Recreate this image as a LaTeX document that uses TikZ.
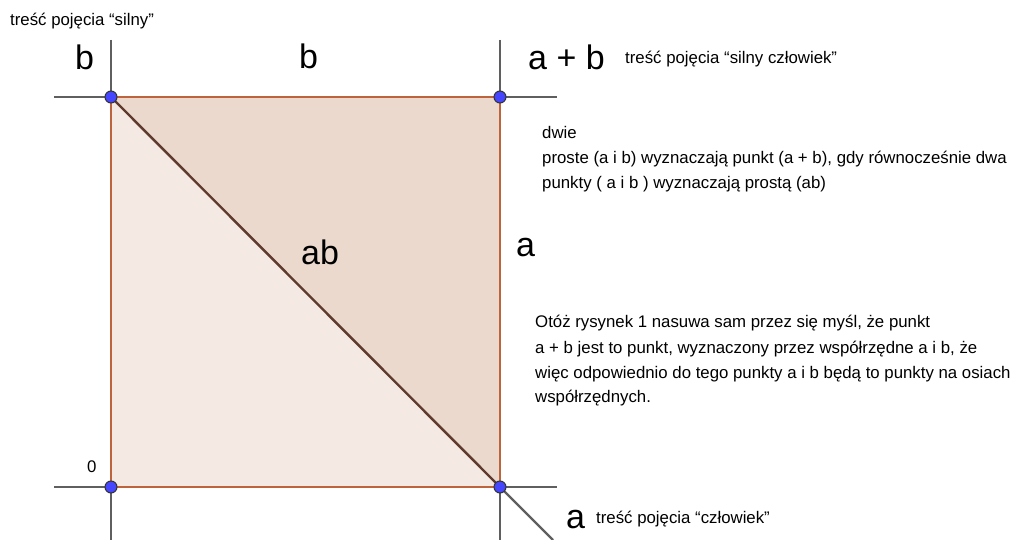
\documentclass[tikz,border=0pt]{standalone}
\usepackage{fontspec}
\setmainfont{Liberation Sans}
\definecolor{edgecol}{RGB}{190,100,60}
\definecolor{diagcol}{RGB}{95,58,45}
\definecolor{darkfill}{RGB}{235,217,206}
\definecolor{lightfill}{RGB}{245,233,228}
\definecolor{axiscol}{RGB}{95,95,95}
\definecolor{ptcol}{RGB}{70,70,255}
\tikzset{
  axis/.style={draw=axiscol, line width=2.4pt},
  edge/.style={draw=edgecol, line width=2.4pt},
  diag/.style={draw=diagcol, line width=2.4pt},
  pt/.style={circle, fill=ptcol, draw=black!80, line width=1pt, minimum size=12pt, inner sep=0pt},
  big/.style={font=\fontsize{34}{40}\selectfont, inner sep=0pt, anchor=base west},
  small/.style={font=\fontsize{16.8}{20}\selectfont, inner sep=0pt, anchor=base west},
}
\begin{document}
\begin{tikzpicture}[x=1pt, y=-1pt]
\useasboundingbox (0,0) rectangle (1013,540);
% corner coordinates
\coordinate (TL) at (111,97);
\coordinate (TR) at (500,97);
\coordinate (BL) at (111,487);
\coordinate (BR) at (500,487);
% axis end points
\coordinate (v1t) at (111,40); \coordinate (v1b) at (111,540);
\coordinate (v2t) at (500,40); \coordinate (v2b) at (500,540);
\coordinate (h1l) at (54,97);  \coordinate (h1r) at (557,97);
\coordinate (h2l) at (54,487); \coordinate (h2r) at (557,487);
\coordinate (dend) at (553,540);
% fills
\fill[lightfill] (TL) -- (BL) -- (BR) -- cycle;
\fill[darkfill] (TL) -- (TR) -- (BR) -- cycle;
% axes
\draw[axis] (v1t) -- (v1b);
\draw[axis] (v2t) -- (v2b);
\draw[axis] (h1l) -- (h1r);
\draw[axis] (h2l) -- (h2r);
\draw[axis] (BR) -- (dend);
% polygon edges
\draw[edge] (TL) -- (TR) -- (BR) -- (BL) -- cycle;
\draw[diag] (TL) -- (BR);
% points
\node[pt] (pTL) at (TL) {};
\node[pt] (pTR) at (TR) {};
\node[pt] (pBL) at (BL) {};
\node[pt] (pBR) at (BR) {};
% big labels
\node[big] (lb1) at (75,70) {b};
\node[big] (lb2) at (299,69) {b};
\node[big] (lab) at (528,70) {a + b};
\node[big] (la1) at (516,257) {a};
\node[big] (lab2) at (301,265) {ab};
\node[big] (la2) at (566,528) {a};
\node[small] (l0) at (87,472) {0};
% small texts
\node[small] (t1) at (10,26) {treść pojęcia “silny”};
\node[small] (t2) at (625,64) {treść pojęcia “silny człowiek”};
\node[small] (t3) at (596,523) {treść pojęcia “człowiek”};
\node[small] (p1) at (542,139) {dwie};
\node[small] (p2) at (542,164) {proste (a i b) wyznaczają punkt (a + b), gdy równocześnie dwa};
\node[small] (p3) at (542,189) {punkty ( a i b ) wyznaczają prostą (ab)};
\node[small] (q1) at (535,328) {Otóż rysynek 1 nasuwa sam przez się myśl, że punkt};
\node[small] (q2) at (535,353) {a + b jest to punkt, wyznaczony przez współrzędne a i b, że};
\node[small] (q3) at (535,378) {więc odpowiednio do tego punkty a i b będą to punkty na osiach};
\node[small] (q4) at (535,402) {współrzędnych.};
\end{tikzpicture}
\end{document}
